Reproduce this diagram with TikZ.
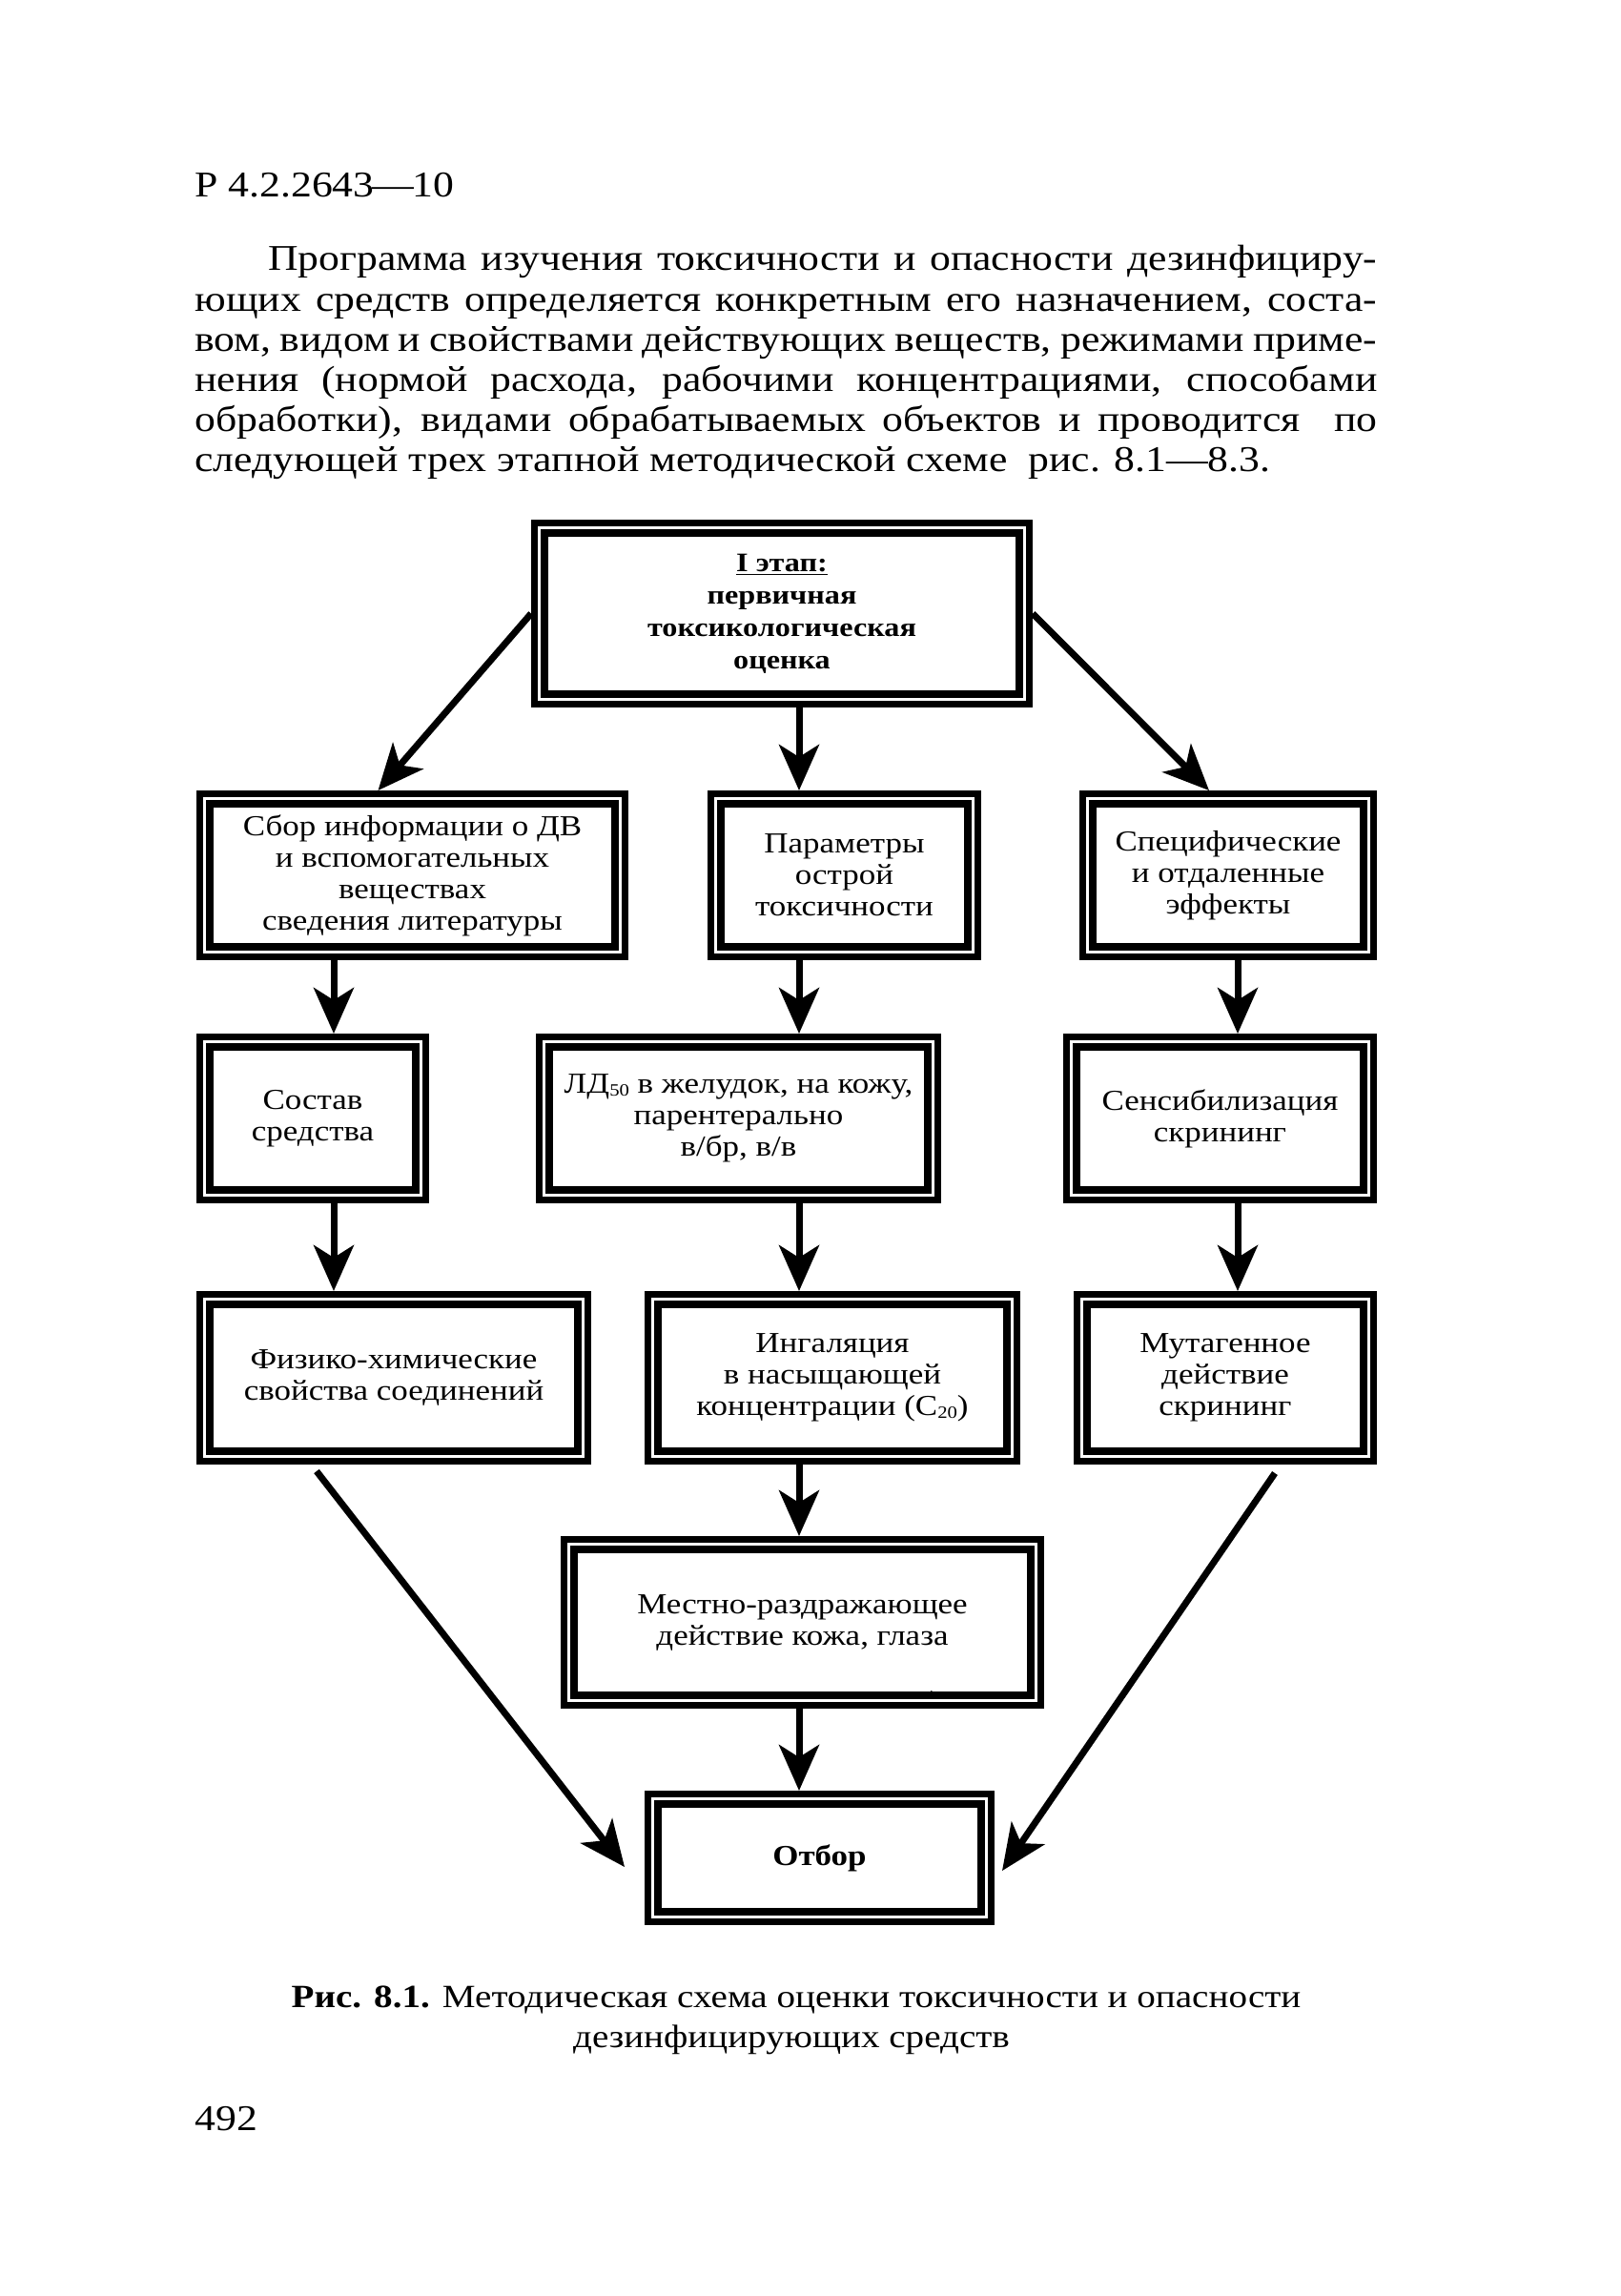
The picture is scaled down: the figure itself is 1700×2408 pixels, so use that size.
\documentclass[tikz,border=0pt]{standalone}
\usepackage{fontspec}
\setmainfont{Liberation Serif}[FakeStretch=1.15]
\usetikzlibrary{arrows.meta}
\newcommand\bxfont{\fontsize{15.2}{16.5}\selectfont}
\newcommand\bdfont{\fontsize{19}{21}\selectfont}
\newcommand\tpfont{\fontsize{14}{17}\selectfont\bfseries}
\newcommand\cpfont{\fontsize{17}{21}\selectfont}
\begin{document}
\begin{tikzpicture}[x=0.5pt,y=-0.5pt,
  dbox/.style={draw, line width=3.6pt, double, double distance=1.6pt, inner sep=0pt, outer sep=4.4pt, align=center, font=\bxfont},
  arr/.style={line width=3.5pt, -{Stealth[length=24pt,width=21pt,inset=6.5pt]}},
  bodyl/.style={anchor=base west, inner sep=0pt, font=\bdfont},
  capl/.style={anchor=base, inner sep=0pt, font=\cpfont}]
\fill[white] (0,0) rectangle (1700,2408);
\useasboundingbox (0,0) rectangle (1700,2408);

% header and paragraph
\node[bodyl] (hd) at (204,207) {\hbox to 127pt{Р 4.2.2643\kern-1pt—\kern-1pt10\hss}};
\node[bodyl] (l1) at (281,284) {\hbox to 581.5pt{Программа изучения токсичности и опасности дезинфициру-}};
\node[bodyl] (l2) at (204,326) {\hbox to 620pt{ющих средств определяется конкретным его назначением, соста-}};
\node[bodyl] (l3) at (204,368) {\hbox to 620pt{вом, видом и свойствами действующих веществ, режимами приме-}};
\node[bodyl] (l4) at (204,410) {\hbox to 620pt{нения (нормой расхода, рабочими концентрациями, способами}};
\node[bodyl] (l5) at (204,452) {\hbox to 620pt{обработки), видами обрабатываемых объектов и проводится \ по}};
\node[bodyl] (l6) at (204,494) {следующей трех этапной методической схеме \ рис. 8.1—8.3.};

% boxes
\node[dbox, font=\tpfont, minimum width=254.2pt, minimum height=89.7pt] (top) at (820,643.5)
  {\underline{I этап:}\\первичная\\токсикологическая\\оценка};

\node[dbox, minimum width=217.7pt, minimum height=80.2pt] (b2L) at (432.5,918)
  {Сбор информации о ДВ\\и вспомогательных\\веществах\\сведения литературы};
\node[dbox, minimum width=134.7pt, minimum height=80.2pt] (b2M) at (885.5,918)
  {Параметры\\острой\\токсичности};
\node[dbox, minimum width=147.2pt, minimum height=80.2pt] (b2R) at (1288,918)
  {Специфические\\и отдаленные\\эффекты};

\node[dbox, minimum width=113.2pt, minimum height=80.2pt] (b3L) at (328,1173)
  {Состав\\средства};
\node[dbox, minimum width=203.7pt, minimum height=80.2pt] (b3M) at (774.5,1173)
  {ЛД{\fontsize{9}{9}\selectfont\raisebox{-0.35ex}{50}} в желудок, на кожу,\\парентерально\\в/бр, в/в};
\node[dbox, minimum width=155.7pt, minimum height=80.2pt] (b3R) at (1279.5,1173)
  {Сенсибилизация\\скрининг};

\node[dbox, minimum width=198.2pt, minimum height=82.2pt] (b4L) at (413,1445)
  {Физико-химические\\свойства соединений};
\node[dbox, minimum width=188.2pt, minimum height=82.2pt] (b4M) at (873,1445)
  {Ингаляция\\в насыщающей\\концентрации (С{\fontsize{9}{9}\selectfont\raisebox{-0.35ex}{20}})};
\node[dbox, minimum width=150.2pt, minimum height=82.2pt] (b4R) at (1285,1445)
  {Мутагенное\\действие\\скрининг};

\node[dbox, minimum width=244.7pt, minimum height=81.7pt] (b5) at (841.5,1701.5)
  {Местно-раздражающее\\действие кожа, глаза};
\node[inner sep=0pt, font=\fontsize{6}{6}\selectfont] (mark) at (977,1778) {!};

\node[dbox, minimum width=174.7pt, minimum height=61.7pt] (b6) at (859.5,1948.5)
  {\textbf{Отбор}};

% connectors
\coordinate (lx) at (350,0);
\coordinate (mx) at (838,0);
\coordinate (rx) at (1298,0);
\draw[arr] (top.west) -- ([xshift=-18pt]b2L.north);
\draw[arr] (top.south -| mx) -- (b2M.north -| mx);
\draw[arr] (top.east) -- ([xshift=-10pt]b2R.north);
\draw[arr] (b2L.south -| lx) -- (b3L.north -| lx);
\draw[arr] (b3L.south -| lx) -- (b4L.north -| lx);
\draw[arr] (b2M.south -| mx) -- (b3M.north -| mx);
\draw[arr] (b3M.south -| mx) -- (b4M.north -| mx);
\draw[arr] (b4M.south -| mx) -- (b5.north -| mx);
\draw[arr] (b5.south -| mx) -- (b6.north -| mx);
\draw[arr] (b2R.south -| rx) -- (b3R.north -| rx);
\draw[arr] (b3R.south -| rx) -- (b4R.north -| rx);
\draw[arr] ([xshift=-40.5pt,yshift=-3.5pt]b4L.south) -- ([xshift=-10.5pt,yshift=-4.75pt]b6.west);
\draw[arr] ([xshift=26pt,yshift=-4.5pt]b4R.south) -- ([xshift=4pt,yshift=-6.75pt]b6.east);

% caption and page number
\node[capl] (c1) at (835,2105) {\textbf{Рис. 8.1.} Методическая схема оценки токсичности и опасности};
\node[capl] (c2) at (830,2147) {дезинфицирующих средств};
\node[bodyl] (pg) at (204,2234) {492};
\end{tikzpicture}
\end{document}
